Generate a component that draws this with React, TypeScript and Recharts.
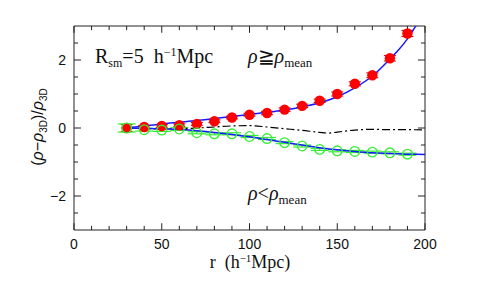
import React from 'react'
import { ComposedChart, Line, Scatter, ErrorBar, XAxis, YAxis, ReferenceLine } from 'recharts'

// measured points
const rPts = [30, 40, 50, 60, 70, 80, 90, 100, 110, 120, 130, 140, 150, 160, 170, 180, 190]
const highVals = [0, 0.03, 0.06, 0.08, 0.12, 0.2, 0.31, 0.39, 0.44, 0.54, 0.65, 0.8, 1.0, 1.3, 1.55, 2.05, 2.78]
const highErr = [0.1, 0.04, 0.04, 0.04, 0.04, 0.04, 0.04, 0.04, 0.05, 0.05, 0.05, 0.05, 0.06, 0.06, 0.07, 0.08, 0.09]
const lowVals = [0, -0.05, -0.06, -0.03, -0.14, -0.17, -0.17, -0.25, -0.31, -0.43, -0.53, -0.63, -0.67, -0.69, -0.71, -0.73, -0.77]
const lowErr = [0.12, 0.04, 0.04, 0.04, 0.03, 0.03, 0.03, 0.03, 0.03, 0.03, 0.03, 0.03, 0.03, 0.03, 0.03, 0.03, 0.03]

// model curves
const rFit = [30, 40, 50, 60, 70, 80, 90, 100, 110, 120, 130, 140, 150, 160, 170, 180, 185, 190, 195, 200]
const highFit = [0, 0.06, 0.12, 0.17, 0.22, 0.28, 0.34, 0.4, 0.46, 0.53, 0.62, 0.74, 0.92, 1.18, 1.53, 2.03, 2.3, 2.62, 3.02, 3.45]
const lowFit = [0, -0.01, -0.02, -0.04, -0.08, -0.13, -0.19, -0.26, -0.34, -0.42, -0.5, -0.58, -0.64, -0.69, -0.73, -0.75, -0.76, -0.77, -0.77, -0.78]

const rDash = [30, 40, 50, 60, 70, 80, 90, 100, 110, 120, 130, 140, 145, 150, 160, 170, 180, 190, 200]
const dashVals = [0, -0.02, -0.03, -0.02, 0, 0.03, 0.06, 0.07, 0.03, -0.02, -0.07, -0.13, -0.15, -0.12, -0.06, -0.04, -0.05, -0.05, -0.06]

const xMajor = [0, 50, 100, 150, 200]
const xMinor = [10, 20, 30, 40, 60, 70, 80, 90, 110, 120, 130, 140, 160, 170, 180, 190]
const yMajor = [-2, 0, 2]
const yMinor = [-2.5, -1.5, -1, -0.5, 0.5, 1, 1.5, 2.5]

const highData = rPts.map((r, i) => ({ r, y: highVals[i], err: highErr[i] }))
const lowData = rPts.map((r, i) => ({ r, y: lowVals[i], err: lowErr[i] }))
const highFitData = rFit.map((r, i) => ({ r, y: highFit[i] }))
const lowFitData = rFit.map((r, i) => ({ r, y: lowFit[i] }))
const dashData = rDash.map((r, i) => ({ r, y: dashVals[i] }))

const serif = '"Liberation Serif", "DejaVu Serif", serif'
const sans = '"Liberation Sans", Arial, sans-serif'

// tick marks point inward, so they are drawn as short segments on all four sides
function tickSegments() {
  const segs: React.ReactNode[] = []
  const xLen = (major: boolean) => (major ? 4 : 2.3)
  const yLen = (major: boolean) => (major ? 0.2 : 0.12)
  const addX = (v: number, major: boolean) => {
    segs.push(<ReferenceLine key={`xb${v}`} segment={[{ x: v, y: -3 }, { x: v, y: -3 + yLen(major) }]} stroke="#222" ifOverflow="visible" />)
    segs.push(<ReferenceLine key={`xt${v}`} segment={[{ x: v, y: 3 }, { x: v, y: 3 - yLen(major) }]} stroke="#222" ifOverflow="visible" />)
  }
  const addY = (v: number, major: boolean) => {
    segs.push(<ReferenceLine key={`yl${v}`} segment={[{ x: 0, y: v }, { x: xLen(major), y: v }]} stroke="#222" ifOverflow="visible" />)
    segs.push(<ReferenceLine key={`yr${v}`} segment={[{ x: 200, y: v }, { x: 200 - xLen(major), y: v }]} stroke="#222" ifOverflow="visible" />)
  }
  xMajor.forEach(v => addX(v, true))
  xMinor.forEach(v => addX(v, false))
  yMajor.forEach(v => addY(v, true))
  yMinor.forEach(v => addY(v, false))
  return segs
}

const redDot = (p: any) => <circle cx={p.cx} cy={p.cy} r={5.2} fill="#ff0000" />
const greenRing = (p: any) => <circle cx={p.cx} cy={p.cy} r={4.8} fill="none" stroke="#33ee33" strokeWidth={1.3} />

export default function App() {
  return (
    <div style={{ position: 'absolute', left: 0, top: 0, width: 480, height: 288, background: '#fff' }}>
      <ComposedChart width={480} height={288} margin={{ top: 26, right: 55, bottom: 28, left: 0 }}>
        <XAxis
          dataKey="r"
          type="number"
          domain={[0, 200]}
          ticks={xMajor}
          height={30}
          tickLine={false}
          tickSize={0}
          tickMargin={9}
          axisLine={{ stroke: '#222' }}
          tick={{ fontSize: 14, fill: '#111', fontFamily: sans }}
        />
        <YAxis
          type="number"
          domain={[-3, 3]}
          allowDataOverflow
          ticks={yMajor}
          width={74}
          tickLine={false}
          tickSize={0}
          tickMargin={8}
          axisLine={{ stroke: '#222' }}
          tick={{ fontSize: 14, fill: '#111', fontFamily: sans }}
          tickFormatter={(v: number) => (v < 0 ? `\u2212${-v}` : `${v}`)}
        />
        <ReferenceLine y={3} stroke="#222" />
        <ReferenceLine x={200} stroke="#222" />
        {tickSegments()}

        <Scatter data={highData} dataKey="y" shape={redDot} isAnimationActive={false}>
          <ErrorBar dataKey="err" direction="y" width={6} stroke="#cc0000" strokeWidth={1} />
        </Scatter>
        <Scatter data={lowData} dataKey="y" shape={greenRing} isAnimationActive={false}>
          <ErrorBar dataKey="err" direction="y" width={9} stroke="#33ee33" strokeWidth={1.2} />
        </Scatter>

        <Line data={dashData} dataKey="y" type="monotone" stroke="#000" strokeWidth={1.2} strokeDasharray="8 3 2 3" dot={false} isAnimationActive={false} />
        <Line data={highFitData} dataKey="y" type="monotone" stroke="#1a1aff" strokeWidth={1.5} dot={false} isAnimationActive={false} />
        <Line data={lowFitData} dataKey="y" type="monotone" stroke="#1a1aff" strokeWidth={1.5} dot={false} isAnimationActive={false} />
      </ComposedChart>

      <svg width={480} height={288} style={{ position: 'absolute', left: 0, top: 0, pointerEvents: 'none' }}>
        <text x={95} y={63} fontFamily={serif} fontSize={20} fill="#111">
          R<tspan fontSize={12} dy={4}>sm</tspan>
          <tspan dy={-4}>{'=5\u00a0\u00a0h'}</tspan>
          <tspan fontSize={12} dy={-7}>−1</tspan>
          <tspan dy={7}>Mpc</tspan>
        </text>
        <text x={248} y={63} fontFamily={serif} fontSize={20} fill="#111">
          <tspan fontStyle="italic">ρ</tspan>≧<tspan fontStyle="italic">ρ</tspan>
          <tspan fontSize={13} dy={4}>mean</tspan>
        </text>
        <text x={248} y={200} fontFamily={serif} fontSize={20} fill="#111">
          <tspan fontStyle="italic">ρ</tspan>&lt;<tspan fontStyle="italic">ρ</tspan>
          <tspan fontSize={13} dy={4}>mean</tspan>
        </text>
        <text x={250} y={268} textAnchor="middle" fontFamily={serif} fontSize={18} fill="#111">
          {'r\u00a0\u00a0(h'}<tspan fontSize={11} dy={-6}>−1</tspan>
          <tspan dy={6}>Mpc)</tspan>
        </text>
        <text transform="translate(43,127) rotate(-90)" textAnchor="middle" fontFamily={sans} fontSize={16} fill="#111">
          (<tspan fontStyle="italic">ρ</tspan>−<tspan fontStyle="italic">ρ</tspan>
          <tspan fontSize={10} dy={4}>3D</tspan>
          <tspan dy={-4}>)/</tspan>
          <tspan fontStyle="italic">ρ</tspan>
          <tspan fontSize={10} dy={4}>3D</tspan>
        </text>
      </svg>
    </div>
  )
}
